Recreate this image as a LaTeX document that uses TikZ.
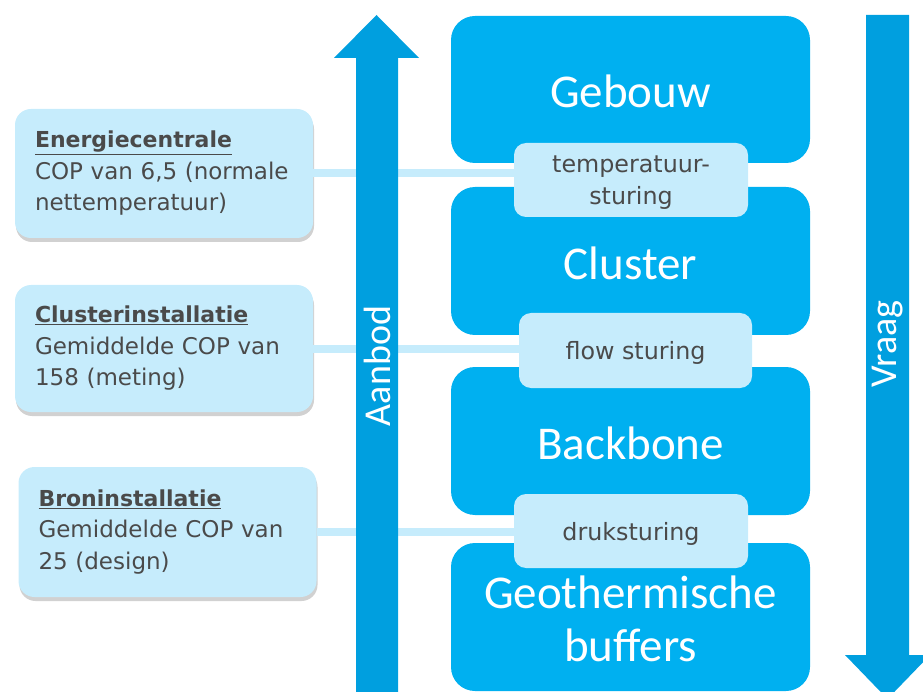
\documentclass[tikz,border=0pt]{standalone}
\usepackage{fontspec}
\setmainfont{DejaVu Sans}
\newfontfamily\bigfont{Carlito}
\usetikzlibrary{shadows}
\definecolor{boxblue}{HTML}{00B0F0}
\definecolor{arrowblue}{HTML}{009FDF}
\definecolor{lightblue}{HTML}{C6ECFC}
\definecolor{txtgray}{HTML}{4A4A4A}
\newcommand{\boxtitle}[1]{{\fontsize{22}{31.5}\selectfont\underline{\textbf{#1}}}}
\begin{document}
\begin{tikzpicture}[x=1pt,y=-1pt,
  mainbox/.style={fill=boxblue, rounded corners=24pt, minimum width=359pt, inner sep=0pt},
  maintext/.style={text=white, font=\bigfont\fontsize{47}{55}\selectfont, align=center},
  ctrlbox/.style={fill=lightblue, rounded corners=12pt, inner sep=0pt},
  ctrltext/.style={text=txtgray, font=\fontsize{23.8}{32}\selectfont, align=center},
  infobox/.style={fill=lightblue, rounded corners=16pt, text=txtgray, minimum width=298pt,
    text width=258pt, align=left, inner xsep=20pt, inner ysep=0pt,
    font=\fontsize{23}{31.5}\selectfont,
    drop shadow={shadow xshift=1pt, shadow yshift=-4pt, opacity=0.3, fill=black!60}},
  link/.style={draw=lightblue, line width=8pt},
  arrowfill/.style={fill=arrowblue},
  arrowlabel/.style={text=white, rotate=90, font=\bigfont\fontsize{38}{44}\selectfont}
]
\useasboundingbox (0,0) rectangle (923,692);

% info boxes
\node[infobox, minimum height=129pt] (energie) at (164,173.5)
  {\boxtitle{Energiecentrale}\\COP van 6,5 (normale\\nettemperatuur)};
\node[infobox, minimum height=127pt] (clusterinst) at (164,348.5)
  {\boxtitle{Clusterinstallatie}\\Gemiddelde COP van\\158 (meting)};
\node[infobox, minimum height=130pt] (bron) at (167.5,532)
  {\boxtitle{Broninstallatie}\\Gemiddelde COP van\\25 (design)};

% connectors
\draw[link] (energie.east) -- (energie.east -| 520,0) coordinate (l1);
\draw[link] (clusterinst.east) -- (clusterinst.east -| 525,0) coordinate (l2);
\draw[link] (bron.east) -- (bron.east -| 520,0) coordinate (l3);

% Aanbod arrow
\fill[arrowfill] (356,692) -- (356,58) -- (334,58) -- (376.5,15) -- (419,58) -- (398,58) -- (398,692) -- cycle;
\node[arrowlabel] (aanbod) at (377,366) {Aanbod};

% Vraag arrow
\fill[arrowfill] (866,15) -- (909,15) -- (909,655) -- (930,655) -- (887.5,699) -- (845,655) -- (866,655) -- cycle;
\node[arrowlabel] (vraag) at (888,344) {Vraag};

% main boxes
\node[mainbox, minimum height=147pt] (gebouw) at (630.5,89.5) {};
\node[maintext] (gebouwt) at (630.5,91) {Gebouw};
\node[mainbox, minimum height=148pt] (cluster) at (630.5,261) {};
\node[maintext] (clustert) at (630.5,263) {Cluster};
\node[mainbox, minimum height=148pt] (backbone) at (630.5,441) {};
\node[maintext] (backbonet) at (630.5,443) {Backbone};
\node[mainbox, minimum height=148pt] (geo) at (630.5,617) {};
\node[maintext] (geot) at (630.5,619) {Geothermische\\[-2pt]buffers};

% control boxes
\node[ctrlbox, minimum width=234pt, minimum height=74pt] (temp) at (631,180) {};
\node[ctrltext] (tempt) at (631,182.5) {temperatuur-\\sturing};
\node[ctrlbox, minimum width=233pt, minimum height=75pt] (flow) at (635.5,350.5) {};
\node[ctrltext] (flowt) at (635.5,353) {flow sturing};
\node[ctrlbox, minimum width=234pt, minimum height=74pt] (druk) at (631,531) {};
\node[ctrltext] (drukt) at (631,534) {druksturing};
\end{tikzpicture}
\end{document}
